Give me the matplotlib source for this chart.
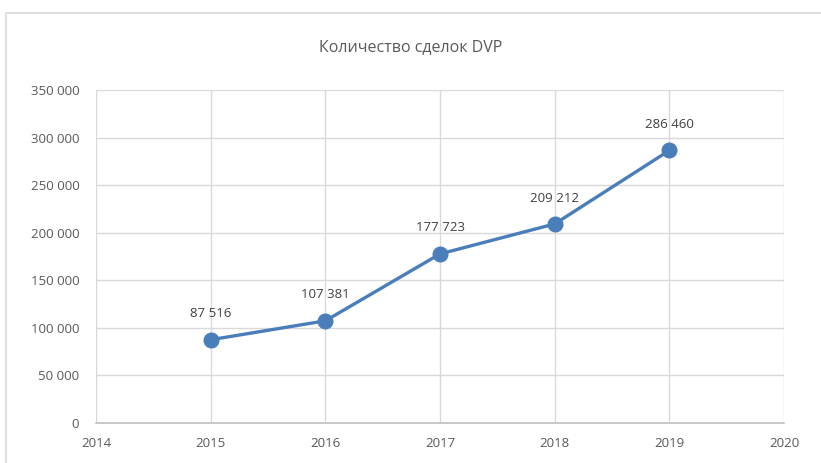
import matplotlib.pyplot as plt
from matplotlib.patches import Rectangle
from matplotlib.ticker import FuncFormatter

years = [2015, 2016, 2017, 2018, 2019]
deals = [87516, 107381, 177723, 209212, 286460]
title = "Количество сделок DVP"

txt = "#595959"
grid = "#D9D9D9"
blue = "#4A7EBB"

def spaced(v, pos=None):
    return f"{int(v):,}".replace(",", " ")

plt.rcParams['font.family'] = ['Open Sans', 'DejaVu Sans']

fig = plt.figure(figsize=(8.21, 4.63), dpi=100)
fig.patches.append(Rectangle((6/821, -0.1), 1.2, (463-13)/463 + 0.1, transform=fig.transFigure,
                             fill=False, edgecolor="#D9D9D9", linewidth=1.2))
ax = fig.add_axes([96/821, 40/463, 688/821, 333/463])

ax.plot(years, deals, color=blue, linewidth=2.4, marker='o', markersize=10.5, zorder=3)
for x, y in zip(years, deals):
    ax.annotate(spaced(y), (x, y), xytext=(0, 14), textcoords='offset points',
                ha='center', va='bottom', fontsize=9.5, color="#404040")

ax.set_xlim(2014, 2020)
ax.set_ylim(0, 350000)
ax.set_xticks(range(2014, 2021))
ax.set_yticks(range(0, 350001, 50000))
ax.yaxis.set_major_formatter(FuncFormatter(spaced))
ax.grid(True, color=grid, linewidth=1)
ax.set_axisbelow(True)
for s in ['top', 'right', 'left']:
    ax.spines[s].set_visible(False)
ax.spines['bottom'].set_color("#BFBFBF")
ax.spines['bottom'].set_linewidth(1.2)
ax.tick_params(length=0, labelsize=9.5, colors=txt)
ax.tick_params(axis='x', pad=10)
ax.tick_params(axis='y', pad=12)

fig.text(0.5, (463-47)/463, title, ha='center', va='center', fontsize=11.5, color=txt)

fig.savefig("out.png", dpi=100)
